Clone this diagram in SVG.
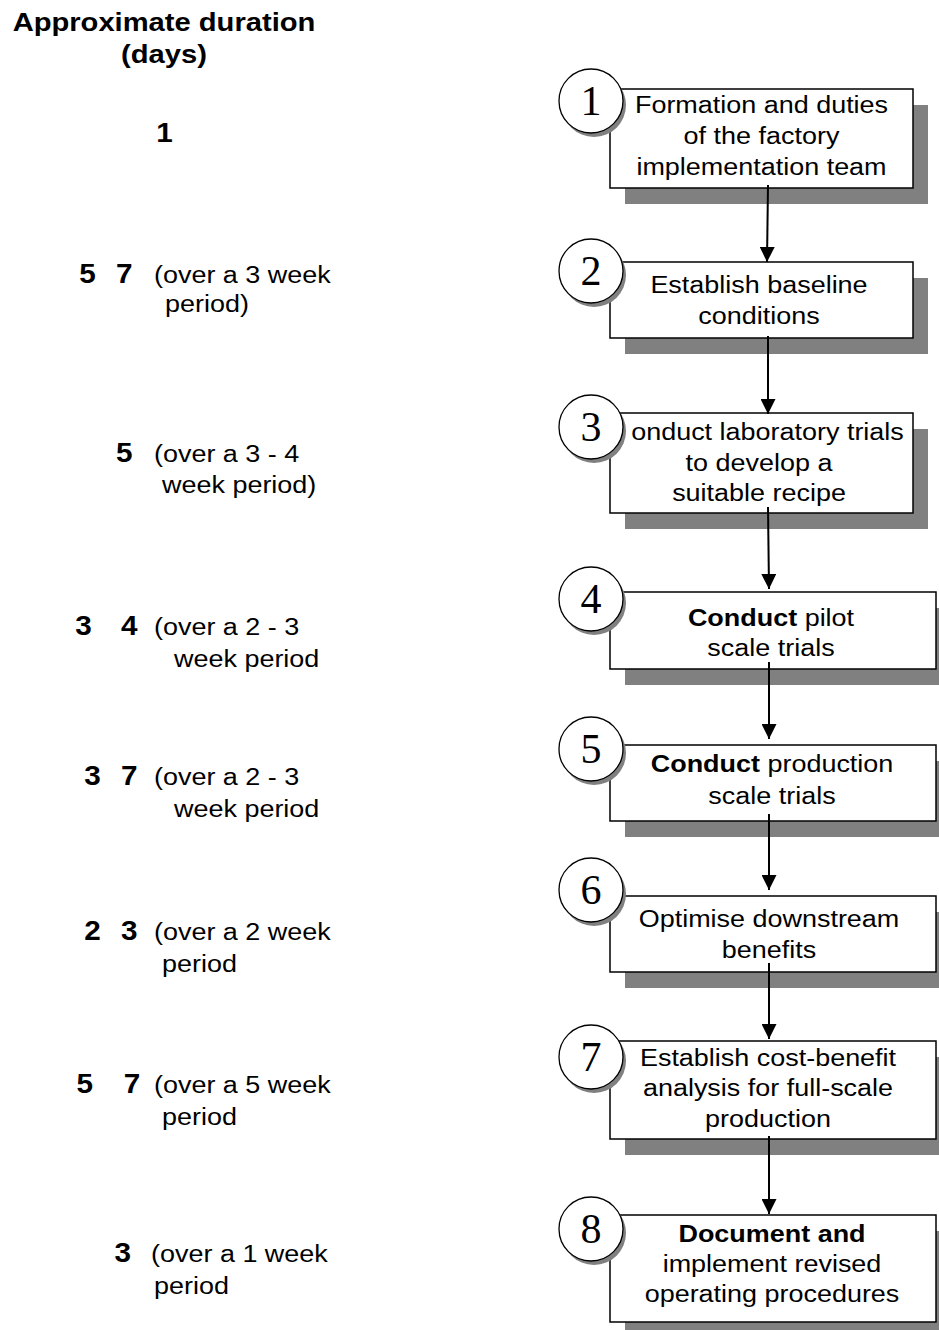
<svg xmlns="http://www.w3.org/2000/svg" width="939" height="1330" viewBox="0 0 939 1330">
<style>
.box{fill:#fff;stroke:#000;stroke-width:1.5}
.sh{fill:#808080}
.circ{fill:#fff;stroke:#000;stroke-width:1.3}
.num{font-family:"Liberation Serif","Times New Roman",serif;font-size:42px;text-anchor:middle;fill:#000}
.bt{font-family:"Liberation Sans",Arial,sans-serif;font-size:24.5px;text-anchor:middle;fill:#000}
.lt{font-family:"Liberation Sans",Arial,sans-serif;font-size:24.5px;fill:#000}
.dg{font-family:"Liberation Sans",Arial,sans-serif;font-size:27px;font-weight:bold;fill:#000}
.hd{font-family:"Liberation Sans",Arial,sans-serif;font-size:26.5px;font-weight:bold;text-anchor:middle;fill:#000}
.b{font-weight:bold}
.conn{stroke:#000;stroke-width:2;fill:none;marker-end:url(#arr)}
</style>
<defs>
<marker id="arr" viewBox="0 0 10 10" refX="10" refY="5" markerWidth="15" markerHeight="15" markerUnits="userSpaceOnUse" orient="auto">
<path d="M0,0 L10,5 L0,10 z" fill="#000"/>
</marker>
</defs>
<rect width="939" height="1330" fill="#fff"/>

<g id="durations" transform="scale(1.1 1)">
<g id="header">
<text class="hd" x="149.1" y="31">Approximate duration</text>
<text class="hd" x="149.1" y="63">(days)</text>
</g>
<g id="dur-1"><text class="dg" x="142" y="142">1</text></g>
<g id="dur-2">
<text class="dg" x="72" y="283">5</text><text class="dg" x="105.5" y="283">7</text>
<text class="lt" x="140" y="283">(over a 3 week</text>
<text class="lt" x="150" y="312">period)</text>
</g>
<g id="dur-3">
<text class="dg" x="105.5" y="462">5</text>
<text class="lt" x="140" y="462">(over a 3 - 4</text>
<text class="lt" x="147.3" y="493">week period)</text>
</g>
<g id="dur-4">
<text class="dg" x="68.5" y="635">3</text><text class="dg" x="110" y="635">4</text>
<text class="lt" x="140" y="635">(over a 2 - 3</text>
<text class="lt" x="158.2" y="667">week period</text>
</g>
<g id="dur-5">
<text class="dg" x="76.5" y="785">3</text><text class="dg" x="110" y="785">7</text>
<text class="lt" x="140" y="785">(over a 2 - 3</text>
<text class="lt" x="158.2" y="817">week period</text>
</g>
<g id="dur-6">
<text class="dg" x="76.5" y="940">2</text><text class="dg" x="110" y="940">3</text>
<text class="lt" x="140" y="940">(over a 2 week</text>
<text class="lt" x="147.3" y="972">period</text>
</g>
<g id="dur-7">
<text class="dg" x="69.5" y="1093">5</text><text class="dg" x="112.5" y="1093">7</text>
<text class="lt" x="140" y="1093">(over a 5 week</text>
<text class="lt" x="147.3" y="1125">period</text>
</g>
<g id="dur-8">
<text class="dg" x="104" y="1262">3</text>
<text class="lt" x="137.3" y="1262">(over a 1 week</text>
<text class="lt" x="140" y="1294">period</text>
</g>
</g>

<g id="step1">
<rect class="sh" x="625" y="105" width="303" height="99"/>
<rect class="box" x="610" y="89" width="303" height="99"/>
<g transform="translate(761.5 0) scale(1.1 1)">
<text class="bt" x="0" y="113">Formation and duties</text>
<text class="bt" x="0" y="144">of the factory</text>
<text class="bt" x="0" y="175">implementation team</text>
</g>
<circle class="sh" cx="594" cy="105" r="32"/>
<circle class="circ" cx="591" cy="101" r="32"/>
<text class="num" x="591" y="115">1</text>
</g>

<g id="step2">
<rect class="sh" x="625" y="278" width="303" height="76"/>
<rect class="box" x="610" y="262" width="303" height="76"/>
<g transform="translate(759 0) scale(1.1 1)">
<text class="bt" x="0" y="293">Establish baseline</text>
<text class="bt" x="0" y="324">conditions</text>
</g>
<circle class="sh" cx="594" cy="275" r="32"/>
<circle class="circ" cx="591" cy="271" r="32"/>
<text class="num" x="591" y="285">2</text>
</g>

<g id="step3">
<rect class="sh" x="625" y="429" width="303" height="100"/>
<rect class="box" x="610" y="413" width="303" height="100"/>
<g transform="translate(767.5 0) scale(1.1 1)"><text class="bt" x="0" y="440">onduct laboratory trials</text></g>
<g transform="translate(759 0) scale(1.1 1)">
<text class="bt" x="0" y="471">to develop a</text>
<text class="bt" x="0" y="501">suitable recipe</text>
</g>
<circle class="sh" cx="594" cy="431" r="32"/>
<circle class="circ" cx="591" cy="427" r="32"/>
<text class="num" x="591" y="441">3</text>
</g>

<g id="step4">
<rect class="sh" x="625" y="608" width="326" height="77"/>
<rect class="box" x="610" y="592" width="326" height="77"/>
<g transform="translate(771 0) scale(1.1 1)">
<text class="bt" x="0" y="626"><tspan class="b">Conduct</tspan> pilot</text>
<text class="bt" x="0" y="656">scale trials</text>
</g>
<circle class="sh" cx="594" cy="603" r="32"/>
<circle class="circ" cx="591" cy="599" r="32"/>
<text class="num" x="591" y="613">4</text>
</g>

<g id="step5">
<rect class="sh" x="625" y="761" width="326" height="76"/>
<rect class="box" x="610" y="745" width="326" height="76"/>
<g transform="translate(772 0) scale(1.1 1)">
<text class="bt" x="0" y="772"><tspan class="b">Conduct</tspan> production</text>
<text class="bt" x="0" y="804">scale trials</text>
</g>
<circle class="sh" cx="594" cy="753" r="32"/>
<circle class="circ" cx="591" cy="749" r="32"/>
<text class="num" x="591" y="763">5</text>
</g>

<g id="step6">
<rect class="sh" x="625" y="912" width="326" height="76"/>
<rect class="box" x="610" y="896" width="326" height="76"/>
<g transform="translate(769 0) scale(1.1 1)">
<text class="bt" x="0" y="927">Optimise downstream</text>
<text class="bt" x="0" y="958">benefits</text>
</g>
<circle class="sh" cx="594" cy="894" r="32"/>
<circle class="circ" cx="591" cy="890" r="32"/>
<text class="num" x="591" y="904">6</text>
</g>

<g id="step7">
<rect class="sh" x="625" y="1057" width="326" height="98"/>
<rect class="box" x="610" y="1041" width="326" height="98"/>
<g transform="translate(768 0) scale(1.1 1)">
<text class="bt" x="0" y="1066">Establish cost-benefit</text>
<text class="bt" x="0" y="1096">analysis for full-scale</text>
<text class="bt" x="0" y="1127">production</text>
</g>
<circle class="sh" cx="594" cy="1061" r="32"/>
<circle class="circ" cx="591" cy="1057" r="32"/>
<text class="num" x="591" y="1071">7</text>
</g>

<g id="step8">
<rect class="sh" x="625" y="1231" width="326" height="107"/>
<rect class="box" x="610" y="1215" width="326" height="107"/>
<g transform="translate(772 0) scale(1.1 1)">
<text class="bt b" x="0" y="1242">Document and</text>
<text class="bt" x="0" y="1272">implement revised</text>
<text class="bt" x="0" y="1302">operating procedures</text>
</g>
<circle class="sh" cx="594" cy="1233" r="32"/>
<circle class="circ" cx="591" cy="1229" r="32"/>
<text class="num" x="591" y="1243">8</text>
</g>

<g id="connectors">
<path class="conn" d="M768,185 L767,262"/>
<path class="conn" d="M768,336 L768,414"/>
<path class="conn" d="M768,507 L769,589"/>
<path class="conn" d="M769,662 L769,739"/>
<path class="conn" d="M769,814 L769,890"/>
<path class="conn" d="M769,963 L769,1039"/>
<path class="conn" d="M769,1136 L769,1214"/>
</g>
</svg>
